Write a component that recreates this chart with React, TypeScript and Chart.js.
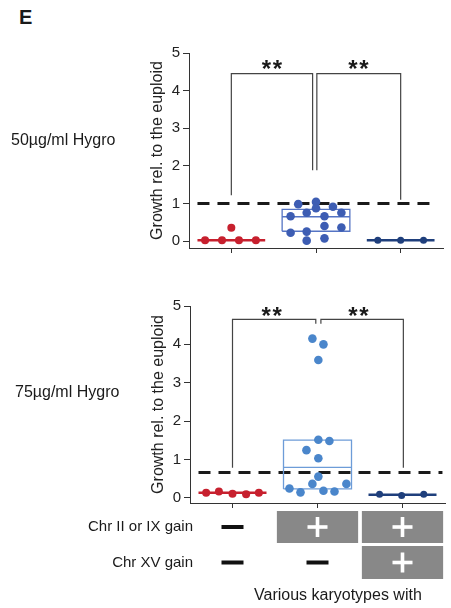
import React, { useEffect, useRef } from "react";
import { Chart, registerables } from "chart.js";
Chart.register(...registerables);

const FONT = "'Liberation Sans', Arial, sans-serif";

// ---- shared ----
const categories = [1, 2, 3];
const yTicks = [0, 1, 2, 3, 4, 5];
const yTitle = "Growth rel. to the euploid";

// ---- 50 µg/ml Hygro ----
const p50Label = "50µg/ml Hygro";
const p50RedY = [0.02, 0.02, 0.35, 0.02, 0.02];
const p50RedDx = [-0.31, -0.11, 0.0, 0.09, 0.29];
const p50RedMedian = 0.02;
const p50BlueY = [0.98, 1.04, 0.87, 0.91, 0.66, 0.75, 0.66, 0.75, 0.22, 0.25, 0.4, 0.36, 0.01, 0.07];
const p50BlueDx = [-0.21, 0.0, 0.0, 0.2, -0.3, -0.11, 0.1, 0.3, -0.3, -0.11, 0.1, 0.3, -0.11, 0.1];
const p50BlueBox = [0.26, 0.645, 0.84]; // q1, median, q3
const p50NavyY = [0.02, 0.02, 0.02];
const p50NavyDx = [-0.27, 0.0, 0.27];
const p50NavyMedian = 0.02;
const p50Threshold = 1.0;
const p50BracketLX = [1, 1, 1.96, 1.96];
const p50BracketLY = [1.22, 4.45, 4.45, 1.88];
const p50BracketRX = [2.01, 2.01, 3.0, 3.0];
const p50BracketRY = [1.88, 4.45, 4.45, 1.1];
const p50StarX = [1.48, 2.5];
const p50StarY = [4.73, 4.73];

// ---- 75 µg/ml Hygro ----
const p75Label = "75µg/ml Hygro";
const p75RedY = [0.13, 0.16, 0.1, 0.09, 0.13];
const p75RedDx = [-0.31, -0.16, 0.0, 0.16, 0.31];
const p75RedMedian = 0.13;
const p75BlueY = [4.15, 4.0, 3.59, 1.51, 1.48, 1.24, 1.03, 0.55, 0.36, 0.36, 0.24, 0.14, 0.18, 0.16];
const p75BlueDx = [-0.06, 0.07, 0.01, 0.01, 0.14, -0.13, 0.01, 0.01, -0.06, 0.34, -0.33, -0.2, 0.07, 0.2];
const p75BlueBox = [0.23, 0.79, 1.5];
const p75NavyY = [0.09, 0.06, 0.09];
const p75NavyDx = [-0.27, -0.01, 0.25];
const p75NavyMedian = 0.08;
const p75Threshold = 0.66;
const p75BracketLX = [1, 1, 1.98, 1.98];
const p75BracketLY = [0.78, 4.65, 4.65, 4.54];
const p75BracketRX = [2.04, 2.04, 3.01, 3.01];
const p75BracketRY = [4.54, 4.65, 4.65, 0.78];
const p75StarX = [1.46, 2.48];
const p75StarY = [4.89, 4.89];

// ---- karyotype table ----
const tableRows = ["Chr II or IX gain", "Chr XV gain"];
const tableRowValues = [
  [false, true, true],
  [false, false, true],
];
const tableCaption = "Various karyotypes with";

type Panel = {
  redY: number[]; redDx: number[]; redMedian: number;
  blueY: number[]; blueDx: number[]; blueBox: number[];
  navyY: number[]; navyDx: number[]; navyMedian: number;
  threshold: number; dashTo: number;
  bLX: number[]; bLY: number[]; bRX: number[]; bRY: number[];
  starX: number[]; starY: number[];
  yMin: number;
  blueColor: string; boxColor: string;
  padding: { left: number; right: number; top: number; bottom: number };
  table: boolean;
};

const RED = "#c7202e";
const NAVY = "#1f3f7c";

function pts(ys: number[], dxs: number[], cat: number) {
  return ys.map((y, i) => ({ x: cat + dxs[i], y }));
}

function lineDs(data: { x: number; y: number }[], color: string, width: number, order: number, dash?: number[]) {
  return {
    type: "scatter" as const,
    data,
    showLine: true,
    borderColor: color,
    borderWidth: width,
    borderDash: dash || [],
    pointRadius: 0,
    pointHoverRadius: 0,
    order,
  };
}

function pointDs(data: { x: number; y: number }[], color: string, r: number) {
  return {
    type: "scatter" as const,
    data,
    backgroundColor: color,
    borderColor: color,
    pointBackgroundColor: color,
    pointBorderWidth: 0,
    pointRadius: r,
    pointHoverRadius: r,
    order: 0,
  };
}

function buildDatasets(p: Panel) {
  const [c1, c2, c3] = categories;
  const hw = 0.4;
  const [q1, med, q3] = p.blueBox;
  return [
    lineDs([{ x: 0.6, y: p.threshold }, { x: p.dashTo, y: p.threshold }], "#1a1a1a", 3, 5, [12, 8]),
    lineDs(p.bLX.map((x, i) => ({ x, y: p.bLY[i] })), "#444", 1.2, 4),
    lineDs(p.bRX.map((x, i) => ({ x, y: p.bRY[i] })), "#444", 1.2, 4),
    lineDs([{ x: c1 - hw, y: p.redMedian }, { x: c1 + hw, y: p.redMedian }], RED, 2.5, 2),
    lineDs([{ x: c3 - hw, y: p.navyMedian }, { x: c3 + hw, y: p.navyMedian }], NAVY, 2.5, 2),
    lineDs(
      [
        { x: c2 - hw, y: q1 }, { x: c2 + hw, y: q1 }, { x: c2 + hw, y: q3 },
        { x: c2 - hw, y: q3 }, { x: c2 - hw, y: q1 },
      ],
      p.boxColor, 1.3, 2
    ),
    lineDs([{ x: c2 - hw, y: med }, { x: c2 + hw, y: med }], p.boxColor, 1.3, 2),
    pointDs(pts(p.redY, p.redDx, c1), RED, 4),
    pointDs(pts(p.blueY, p.blueDx, c2), p.blueColor, 4.3),
    pointDs(pts(p.navyY, p.navyDx, c3), NAVY, 3.5),
  ];
}

function makePlugin(p: Panel) {
  return {
    id: "annot",
    afterDraw(chart: any) {
      const ctx = chart.ctx as CanvasRenderingContext2D;
      const xs = chart.scales.x;
      const ys = chart.scales.y;
      ctx.save();
      // significance stars
      ctx.fillStyle = "#1a1a1a";
      ctx.font = `bold 24px ${FONT}`;
      ctx.textAlign = "center";
      ctx.textBaseline = "alphabetic";
      p.starX.forEach((sx, i) => {
        const cx = xs.getPixelForValue(sx);
        const cy = ys.getPixelForValue(p.starY[i]);
        ctx.fillText("*", cx - 5.5, cy + 14);
        ctx.fillText("*", cx + 5.5, cy + 14);
      });
      if (p.table) {
        const ca = chart.chartArea;
        const rowTop = [8, 43];
        const rowH = [32, 33];
        tableRows.forEach((lab, r) => {
          const cy = ca.bottom + rowTop[r] + rowH[r] / 2;
          ctx.fillStyle = "#1a1a1a";
          ctx.font = `15px ${FONT}`;
          ctx.textAlign = "right";
          ctx.textBaseline = "middle";
          ctx.fillText(lab, ca.left + 3, cy);
          tableRowValues[r].forEach((on, ci) => {
            const cat = categories[ci];
            const cx = xs.getPixelForValue(cat);
            if (on) {
              const x0 = xs.getPixelForValue(cat - 0.478);
              const x1 = xs.getPixelForValue(cat + 0.478);
              ctx.fillStyle = "#888888";
              ctx.fillRect(x0, ca.bottom + rowTop[r], x1 - x0, rowH[r]);
              ctx.fillStyle = "#ffffff";
              ctx.fillRect(cx - 10, cy - 1.8, 20, 3.6);
              ctx.fillRect(cx - 1.8, cy - 10, 3.6, 20);
            } else {
              ctx.fillStyle = "#111111";
              ctx.fillRect(cx - 11, cy - 2, 22, 4);
            }
          });
        });
        ctx.fillStyle = "#1a1a1a";
        ctx.font = `16px ${FONT}`;
        ctx.textAlign = "center";
        ctx.textBaseline = "middle";
        ctx.fillText(tableCaption, xs.getPixelForValue(2.24), ca.bottom + 93);
      }
      ctx.restore();
    },
  };
}

function makeConfig(p: Panel): any {
  return {
    type: "scatter",
    data: { datasets: buildDatasets(p) },
    plugins: [makePlugin(p)],
    options: {
      animation: false,
      responsive: false,
      events: [],
      layout: { padding: p.padding },
      plugins: { legend: { display: false }, tooltip: { enabled: false } },
      scales: {
        x: {
          type: "linear",
          min: 0.5,
          max: 3.5,
          afterBuildTicks: (s: any) => {
            s.ticks = categories.map((v) => ({ value: v }));
          },
          afterFit: (s: any) => {
            s.height = 7;
          },
          ticks: { display: false },
          grid: { display: true, drawOnChartArea: false, drawTicks: true, tickLength: 5, color: "#333", lineWidth: 1 },
          border: { display: true, color: "#333", width: 1 },
        },
        y: {
          type: "linear",
          min: p.yMin,
          max: 5,
          afterBuildTicks: (s: any) => {
            s.ticks = yTicks.map((v) => ({ value: v }));
          },
          afterFit: (s: any) => {
            s.width = 50;
          },
          ticks: { color: "#222", font: { family: FONT, size: 15 }, padding: 3 },
          grid: { display: true, drawOnChartArea: false, drawTicks: true, tickLength: 6, color: "#333", lineWidth: 1 },
          border: { display: true, color: "#333", width: 1 },
          title: {
            display: true,
            text: yTitle,
            color: "#222",
            font: { family: FONT, size: 16 },
            padding: { top: 9.4, bottom: 0 },
          },
        },
      },
    },
  };
}

const panel50: Panel = {
  redY: p50RedY, redDx: p50RedDx, redMedian: p50RedMedian,
  blueY: p50BlueY, blueDx: p50BlueDx, blueBox: p50BlueBox,
  navyY: p50NavyY, navyDx: p50NavyDx, navyMedian: p50NavyMedian,
  threshold: p50Threshold, dashTo: 3.42,
  bLX: p50BracketLX, bLY: p50BracketLY, bRX: p50BracketRX, bRY: p50BracketRY,
  starX: p50StarX, starY: p50StarY,
  yMin: -0.186,
  blueColor: "#3d5db3", boxColor: "#5574c4",
  padding: { left: 139, right: 8, top: 18, bottom: 5 },
  table: false,
};

const panel75: Panel = {
  redY: p75RedY, redDx: p75RedDx, redMedian: p75RedMedian,
  blueY: p75BlueY, blueDx: p75BlueDx, blueBox: p75BlueBox,
  navyY: p75NavyY, navyDx: p75NavyDx, navyMedian: p75NavyMedian,
  threshold: p75Threshold, dashTo: 3.47,
  bLX: p75BracketLX, bLY: p75BracketLY, bRX: p75BracketRX, bRY: p75BracketRY,
  starX: p75StarX, starY: p75StarY,
  yMin: -0.138,
  blueColor: "#4a86cb", boxColor: "#6d9cd8",
  padding: { left: 140, right: 6, top: 16, bottom: 98 },
  table: true,
};

function PanelChart({ panel, top, height }: { panel: Panel; top: number; height: number }) {
  const ref = useRef<HTMLCanvasElement | null>(null);
  useEffect(() => {
    if (!ref.current) return;
    const chart = new Chart(ref.current, makeConfig(panel));
    return () => chart.destroy();
  }, [panel]);
  return (
    <canvas
      ref={ref}
      width={451}
      height={height}
      style={{ position: "absolute", left: 0, top, width: 451, height, display: "block" }}
    />
  );
}

export default function App() {
  return (
    <div
      style={{
        position: "absolute",
        left: 0,
        top: 0,
        width: 451,
        height: 608,
        background: "#fff",
        fontFamily: FONT,
        color: "#1a1a1a",
        overflow: "hidden",
      }}
    >
      <PanelChart panel={panel50} top={35} height={225} />
      <PanelChart panel={panel75} top={290} height={318} />
      <div style={{ position: "absolute", left: 19, top: 7, fontSize: 20, fontWeight: 700, lineHeight: 1 }}>E</div>
      <div style={{ position: "absolute", left: 11, top: 132, fontSize: 16, lineHeight: 1, whiteSpace: "nowrap" }}>{p50Label}</div>
      <div style={{ position: "absolute", left: 15, top: 384, fontSize: 16, lineHeight: 1, whiteSpace: "nowrap" }}>{p75Label}</div>
    </div>
  );
}
